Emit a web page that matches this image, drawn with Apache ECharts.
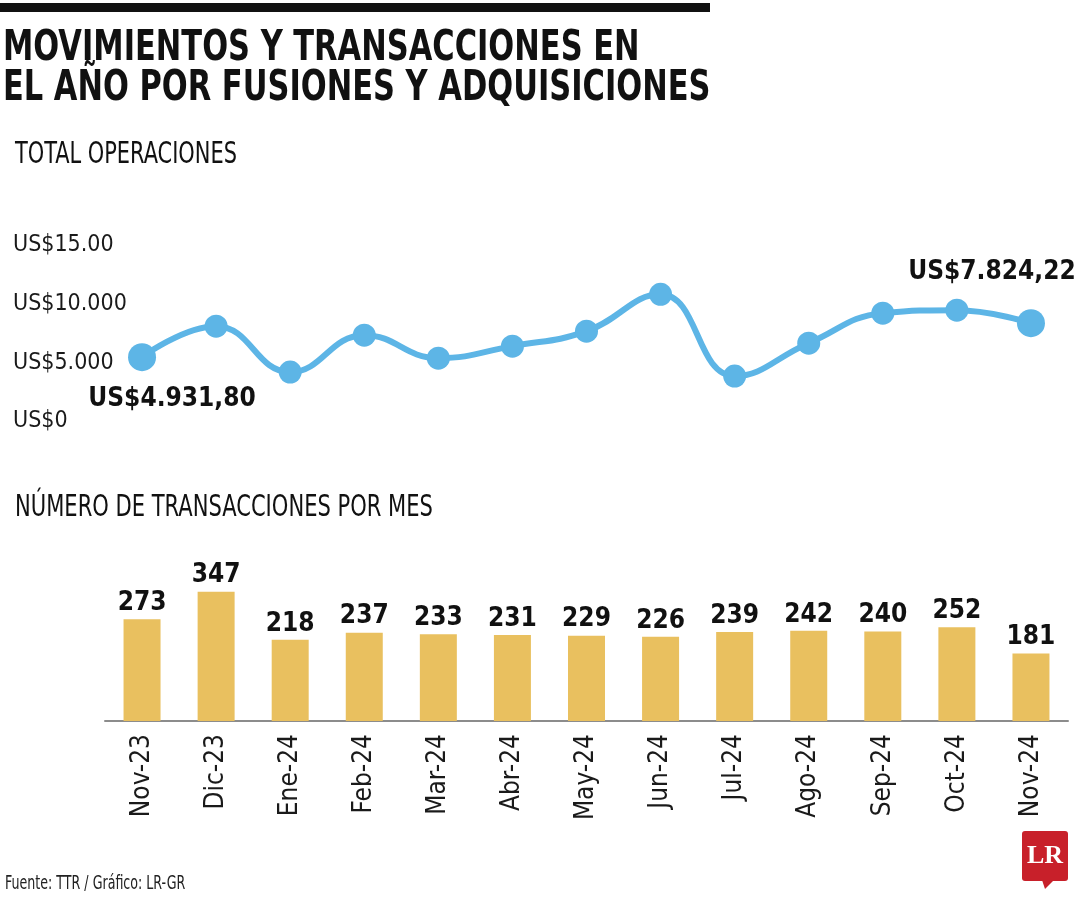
<!DOCTYPE html>
<html>
<head>
<meta charset="utf-8">
<script src="https://cdn.jsdelivr.net/npm/echarts@6/dist/echarts.min.js"></script>
<style>
  html, body { margin: 0; padding: 0; background: #fff; }
  #chart { width: 1080px; height: 900px; }
</style>
</head>
<body>
<div id="chart"></div>
<script>
const titleLines = ['MOVIMIENTOS Y TRANSACCIONES EN', 'EL AÑO POR FUSIONES Y ADQUISICIONES'];
const lineTitle = 'TOTAL OPERACIONES';
const barTitle = 'NÚMERO DE TRANSACCIONES POR MES';
const sourceText = 'Fuente: TTR / Gráfico: LR-GR';
const months = ['Nov-23', 'Dic-23', 'Ene-24', 'Feb-24', 'Mar-24', 'Abr-24', 'May-24', 'Jun-24', 'Jul-24', 'Ago-24', 'Sep-24', 'Oct-24', 'Nov-24'];
const totalValues = [4931.80, 7568, 3656, 6803, 4847, 5867, 7143, 10289, 3316, 6122, 8673, 8929, 7824.22];
const totalLabels = ['US$4.931,80', 'US$7.824,22'];
const transactions = [273, 347, 218, 237, 233, 231, 229, 226, 239, 242, 240, 252, 181];
const yTickLabels = ['US$0', 'US$5.000', 'US$10.000', 'US$15.00'];

const FONT = "'Liberation Sans Narrow', 'Arial Narrow', 'DejaVu Sans Condensed', sans-serif";
const BLUE = '#5DB5E6';
const GOLD = '#E9C05F';

const chart = echarts.init(document.getElementById('chart'));
const last = totalValues.length - 1;

const lineData = totalValues.map((v, i) => {
  const item = { value: v };
  if (i === 0) {
    item.symbolSize = 28;
    item.label = { show: true, formatter: totalLabels[0], position: 'bottom', distance: 15, offset: [30, 0] };
  } else if (i === last) {
    item.symbolSize = 28;
    item.label = { show: true, formatter: totalLabels[1], position: 'top', distance: 24, offset: [-39, 0] };
  }
  return item;
});

const option = {
  backgroundColor: '#fff',
  animation: false,
  textStyle: { fontFamily: FONT },
  grid: [
    { left: 105, right: 12, top: 239, height: 176 },
    { left: 105, right: 12, top: 572, height: 149 }
  ],
  xAxis: [
    { type: 'category', gridIndex: 0, data: months, boundaryGap: true,
      axisLine: { show: false }, axisTick: { show: false }, axisLabel: { show: false }, splitLine: { show: false } },
    { type: 'category', gridIndex: 1, data: months, boundaryGap: true,
      axisLine: { show: true, lineStyle: { color: '#8c8c8c', width: 2 } },
      axisTick: { show: false },
      axisLabel: { rotate: 90, margin: 13, fontSize: 26, color: '#1a1a1a', fontFamily: FONT, interval: 0 } }
  ],
  yAxis: [
    { type: 'value', gridIndex: 0, min: 0, max: 15000, interval: 5000,
      axisLine: { show: false }, axisTick: { show: false }, splitLine: { show: false },
      axisLabel: { align: 'left', margin: 92, color: '#1a1a1a',
        formatter: v => '{t|' + yTickLabels[Math.round(v / 5000)] + '}',
        rich: { t: { fontSize: 23, fontFamily: FONT, color: '#1a1a1a', padding: [13, 0, 0, 0] } } } },
    { type: 'value', gridIndex: 1, min: 0, max: 400,
      axisLine: { show: false }, axisTick: { show: false }, splitLine: { show: false }, axisLabel: { show: false } }
  ],
  series: [
    { type: 'line', xAxisIndex: 0, yAxisIndex: 0, data: lineData, smooth: 0.45,
      symbol: 'circle', symbolSize: 23,
      lineStyle: { color: BLUE, width: 6 }, itemStyle: { color: BLUE },
      label: { show: false, fontSize: 26, fontWeight: 'bold', color: '#111', fontFamily: FONT } },
    { type: 'bar', xAxisIndex: 1, yAxisIndex: 1, data: transactions, barWidth: 37,
      itemStyle: { color: GOLD },
      label: { show: true, position: 'top', distance: 3, fontSize: 26, fontWeight: 'bold', color: '#111', fontFamily: FONT } }
  ],
  graphic: [
    { type: 'rect', left: 0, top: 3, shape: { width: 710, height: 9 }, style: { fill: '#111' } },
    { type: 'text', x: 3, y: 28, scaleX: 0.807, style: { text: titleLines[0], font: "bold 42px " + FONT, fill: '#111' } },
    { type: 'text', x: 3, y: 68, scaleX: 0.807, style: { text: titleLines[1], font: "bold 42px " + FONT, fill: '#111' } },
    { type: 'text', x: 15, y: 139, scaleX: 0.75, style: { text: lineTitle, font: "31px " + FONT, fill: '#111' } },
    { type: 'text', x: 15, y: 492, scaleX: 0.755, style: { text: barTitle, font: "31px " + FONT, fill: '#111' } },
    { type: 'text', x: 5, y: 875, scaleX: 0.74, style: { text: sourceText, font: "19px " + FONT, fill: '#222' } },
    { type: 'rect', x: 1022, y: 831, shape: { width: 46, height: 50, r: 3 }, style: { fill: '#C8202A' } },
    { type: 'polygon', shape: { points: [[1042, 880], [1054, 880], [1045, 889]] }, style: { fill: '#C8202A' } },
    { type: 'text', x: 1045, y: 856, style: { text: 'LR', font: "bold 26px 'Liberation Serif', serif", fill: '#fff', align: 'center', verticalAlign: 'middle' } }
  ]
};
chart.setOption(option);
</script>
</body>
</html>
